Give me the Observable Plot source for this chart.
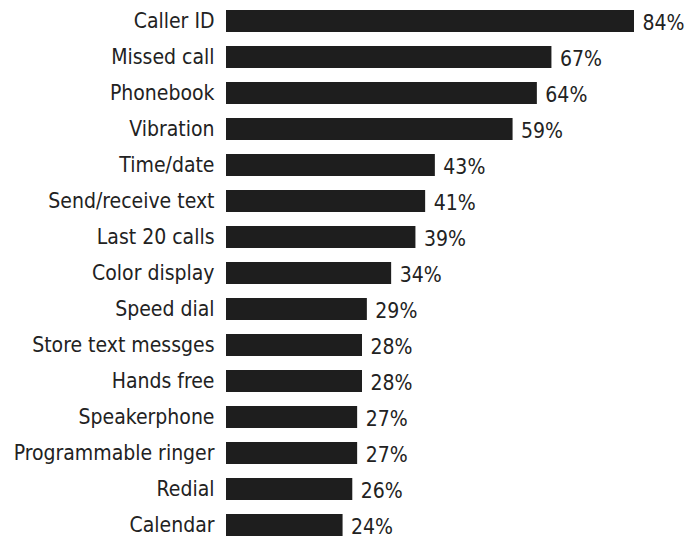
<!DOCTYPE html>
<html>
<head>
<meta charset="utf-8">
<script src="https://cdn.jsdelivr.net/npm/d3@7"></script>
<script src="https://cdn.jsdelivr.net/npm/@observablehq/plot@0.6"></script>
<style>
  html, body { margin: 0; padding: 0; background: #ffffff; }
</style>
</head>
<body>
<div id="chart"></div>
<script>
const categories = [
  "Caller ID", "Missed call", "Phonebook", "Vibration", "Time/date",
  "Send/receive text", "Last 20 calls", "Color display", "Speed dial",
  "Store text messges", "Hands free", "Speakerphone", "Programmable ringer",
  "Redial", "Calendar"
];
const values = [84, 67, 64, 59, 43, 41, 39, 34, 29, 28, 28, 27, 27, 26, 24];

const data = categories.map((c, i) => ({ feature: c, pct: values[i] }));
const font = "'DejaVu Sans Condensed', 'DejaVu Sans', sans-serif";

const chart = Plot.plot({
  width: 694,
  height: 539,
  marginLeft: 226,
  marginRight: 60,
  marginTop: 0,
  marginBottom: 0,
  x: { domain: [0, 84], range: [226, 634], axis: null },
  y: { domain: categories, range: [7.3, 538], paddingInner: 0.395, paddingOuter: 0, label: null, axis: null },
  style: { fontFamily: font, fontSize: "21px", color: "#222", background: "#ffffff" },
  marks: [
    Plot.barX(data, { x: "pct", y: "feature", fill: "#1e1e1e" }),
    Plot.text(data, { x: "pct", y: "feature", text: d => d.pct + "%", textAnchor: "start", dx: 8, dy: 2, fontSize: 21, fill: "#222" }),
    Plot.axisY({ tickSize: 0, tickPadding: 12, fontSize: 21, label: null, color: "#222" })
  ]
});
document.getElementById("chart").appendChild(chart);
</script>
</body>
</html>
